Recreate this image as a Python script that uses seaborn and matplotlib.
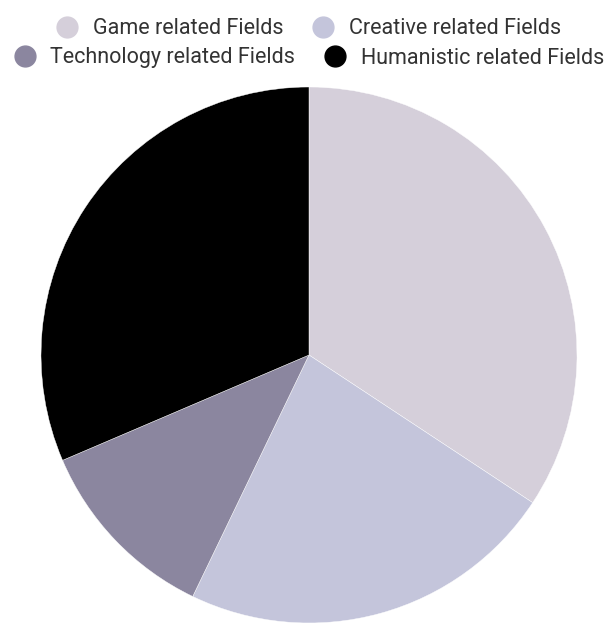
import matplotlib
matplotlib.use("Agg")
import matplotlib.pyplot as plt
from matplotlib.lines import Line2D
import seaborn as sns

categories = ["Game related Fields", "Creative related Fields",
              "Technology related Fields", "Humanistic related Fields"]
values = [12, 8, 4, 11]
colors = ["#d5cfda", "#c4c5db", "#8b869f", "#000000"]

sns.set_theme(style="white")
plt.rcParams["font.family"] = ["Roboto", "DejaVu Sans"]

W, H = 608, 623
fig = plt.figure(figsize=(W / 100, H / 100), dpi=100)
fig.patch.set_facecolor("white")

cx, cy, r = 309, 355, 268
ax = fig.add_axes([(cx - r) / W, (H - cy - r) / H, 2 * r / W, 2 * r / H])
ax.pie(values, colors=colors, startangle=90, counterclock=False,
       wedgeprops=dict(edgecolor="white", linewidth=0.3))
ax.set_xlim(-1, 1)
ax.set_ylim(-1, 1)
ax.set_aspect("auto")
ax.axis("off")

def handles(idx):
    return [Line2D([], [], marker="o", linestyle="none", markersize=15,
                   markerfacecolor=colors[i], markeredgecolor=colors[i],
                   label=categories[i]) for i in idx]

for idx, y in (([0, 1], 29), ([2, 3], 58)):
    fig.legend(handles=handles(idx), loc="center", ncol=2,
               bbox_to_anchor=(cx / W, 1 - y / H), frameon=False,
               fontsize=15.5, handletextpad=0.7, columnspacing=1.35,
               handlelength=1.0, borderpad=0, labelcolor="#333333")

fig.savefig("out.png", dpi=100, facecolor="white")
